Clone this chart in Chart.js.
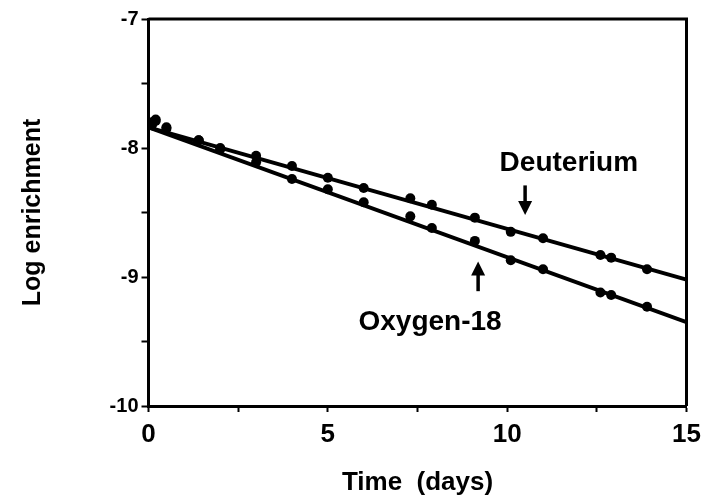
<!DOCTYPE html>
<html>
<head>
<meta charset="utf-8">
<script src="https://cdn.jsdelivr.net/npm/chart.js@4.4.0/dist/chart.umd.min.js"></script>
<style>
  html, body { margin: 0; padding: 0; background: #fff; }
  #wrap { width: 711px; height: 498px; position: relative; }
</style>
</head>
<body>
<div id="wrap"><canvas id="chart"></canvas></div>
<script>
const sampleDays = [0.1, 0.2, 0.5, 1.4, 2.0, 3.0, 4.0, 5.0, 6.0, 7.3, 7.9, 9.1, 10.1, 11.0, 12.6, 12.9, 13.9];
const deuteriumLog = [-7.80, -7.78, -7.84, -7.94, -8.00, -8.06, -8.14, -8.23, -8.31, -8.39, -8.44, -8.54, -8.65, -8.70, -8.83, -8.85, -8.94];
const oxygenLog = [-7.82, -7.79, -7.85, -7.94, -8.01, -8.11, -8.24, -8.32, -8.42, -8.53, -8.62, -8.72, -8.87, -8.94, -9.12, -9.14, -9.23];

// fitted lines, start and end of the time axis
const fitDays = [0, 15];
const deuteriumFit = [-7.84, -9.02];
const oxygenFit = [-7.84, -9.35];

const xTickLabels = [0, 5, 10, 15];
const yTickLabels = [-7, -8, -9, -10];

// label text and arrow, in data units
const seriesNotes = [
  { text: "Deuterium", x: 11.72, y: -8.12, arrowX: 10.5, arrowFrom: -8.29, arrowTo: -8.52 },
  { text: "Oxygen-18", x: 7.85, y: -9.35, arrowX: 9.19, arrowFrom: -9.11, arrowTo: -8.88 }
];

const FONT = "\"Liberation Sans\", Arial, sans-serif";

function toPoints(xs, ys) {
  return xs.map((x, i) => ({ x, y: ys[i] }));
}

const frameAndNotes = {
  id: "frameAndNotes",
  afterDatasetsDraw(chart) {
    const { ctx, chartArea, scales } = chart;
    ctx.save();
    ctx.strokeStyle = "#000";
    ctx.lineWidth = 3;
    ctx.beginPath();
    ctx.moveTo(chartArea.left, chartArea.top);
    ctx.lineTo(chartArea.right, chartArea.top);
    ctx.lineTo(chartArea.right, chartArea.bottom);
    ctx.stroke();

    ctx.fillStyle = "#000";
    ctx.font = "bold 28px " + FONT;
    ctx.textAlign = "center";
    ctx.textBaseline = "middle";
    seriesNotes.forEach((note) => {
      ctx.fillText(note.text, scales.x.getPixelForValue(note.x), scales.y.getPixelForValue(note.y));
      const ax = scales.x.getPixelForValue(note.arrowX);
      const y0 = scales.y.getPixelForValue(note.arrowFrom);
      const y1 = scales.y.getPixelForValue(note.arrowTo);
      const dir = y1 > y0 ? 1 : -1;
      ctx.lineWidth = 3.5;
      ctx.beginPath();
      ctx.moveTo(ax, y0);
      ctx.lineTo(ax, y1 - dir * 8);
      ctx.stroke();
      ctx.beginPath();
      ctx.moveTo(ax, y1);
      ctx.lineTo(ax - 7, y1 - dir * 14);
      ctx.lineTo(ax + 7, y1 - dir * 14);
      ctx.closePath();
      ctx.fill();
    });
    ctx.restore();
  }
};

const lineStyle = {
  showLine: true,
  borderColor: "#000",
  borderWidth: 4,
  pointRadius: 0,
  fill: false
};

const dotStyle = {
  showLine: false,
  pointRadius: 5,
  pointBackgroundColor: "#000",
  pointBorderColor: "#000",
  pointBorderWidth: 0
};

new Chart(document.getElementById("chart"), {
  type: "scatter",
  data: {
    datasets: [
      { label: "Deuterium fit", data: toPoints(fitDays, deuteriumFit), ...lineStyle },
      { label: "Oxygen-18 fit", data: toPoints(fitDays, oxygenFit), ...lineStyle },
      { label: "Deuterium", data: toPoints(sampleDays, deuteriumLog), ...dotStyle },
      { label: "Oxygen-18", data: toPoints(sampleDays, oxygenLog), ...dotStyle }
    ]
  },
  options: {
    animation: false,
    responsive: true,
    maintainAspectRatio: false,
    layout: { padding: { left: 18, right: 24.5, top: 19, bottom: 0 } },
    plugins: {
      legend: { display: false },
      tooltip: { enabled: false }
    },
    scales: {
      x: {
        type: "linear",
        min: 0,
        max: 15,
        afterFit: (scale) => { scale.height = 92; },
        ticks: {
          stepSize: 2.5,
          autoSkip: false,
          maxRotation: 0,
          padding: 7,
          color: "#000",
          font: { family: FONT, size: 26, weight: "bold" },
          callback: (v) => xTickLabels.includes(v) ? String(v) : ""
        },
        grid: { drawOnChartArea: false, tickLength: 6, tickWidth: 2, tickColor: "#000" },
        border: { color: "#000", width: 3 },
        title: {
          display: true,
          text: "Time  (days)",
          color: "#000",
          padding: 0,
          font: { family: FONT, size: 26, weight: "bold" }
        }
      },
      y: {
        type: "linear",
        min: -10,
        max: -7,
        afterFit: (scale) => { scale.width = 130.5; },
        ticks: {
          stepSize: 0.5,
          autoSkip: false,
          padding: 3,
          color: "#000",
          font: { family: FONT, size: 20, weight: "bold" },
          callback: (v) => yTickLabels.includes(v) ? String(v) : ""
        },
        grid: { drawOnChartArea: false, tickLength: 7, tickWidth: 2, tickColor: "#000" },
        border: { color: "#000", width: 3 },
        title: {
          display: true,
          text: "Log enrichment",
          color: "#000",
          padding: 0,
          font: { family: FONT, size: 25, weight: "bold" }
        }
      }
    }
  },
  plugins: [frameAndNotes]
});
</script>
</body>
</html>
